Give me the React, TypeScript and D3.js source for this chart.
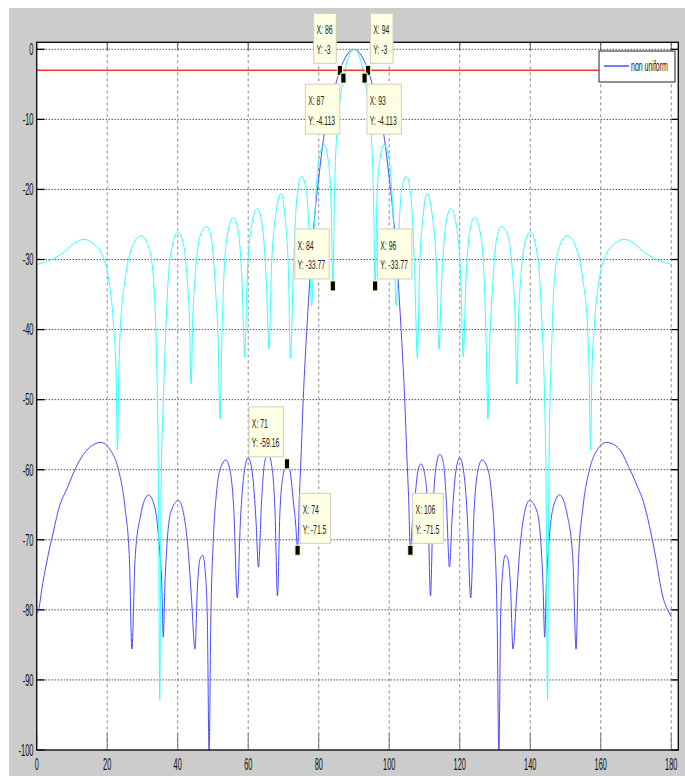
import React from 'react';
import * as d3 from 'd3';

const W = 685;
const H = 776;

const xTicks = [0, 20, 40, 60, 80, 100, 120, 140, 160, 180];
const yTicks = [0, -10, -20, -30, -40, -50, -60, -70, -80, -90, -100];

// non uniform (blue)
const blueAngle = [
  0, 0.7, 1.4, 2.8, 4.7, 6.6, 8.5, 11.4, 14.2, 17.1, 18.1, 19, 20.9, 23.2, 25.1, 26.3, 27, 27.9, 29.4, 31.7,
  33.6, 34.9, 35.5, 35.9, 36.4, 36.9, 38, 40.2, 41.6, 43, 43.9, 44.9, 45.6, 46.3, 47.1, 47.7, 48.4, 48.9, 49.4,
  50.1, 51, 52.4, 53.7, 54.8, 55.9, 56.9, 57.8, 58.8, 60, 61.2, 62.2, 62.9, 63.8, 64.7, 65.7, 66.7, 67.6, 68.3,
  69, 70, 71, 71.8, 72.8, 73.5, 74, 74.5, 75, 75.6, 76.4, 77.1, 78, 78.9, 80.2, 81.3, 82.7, 84, 86, 88, 89, 90,
  91, 92, 94, 96, 97.3, 98.7, 99.8, 101.1, 102, 102.9, 103.6, 104.4, 105, 105.5, 106, 106.5, 107.2, 108.2, 109,
  110, 111, 111.7, 112.4, 113.3, 114.3, 115.3, 116.2, 117.1, 117.8, 118.8, 120, 121.2, 122.2, 123.1, 124.1,
  125.2, 126.3, 127.6, 129, 129.9, 130.6, 131.1, 131.6, 132.3, 132.9, 133.7, 134.4, 135.1, 136.1, 137, 138.4,
  139.8, 142, 143.1, 143.6, 144.1, 144.6, 145.1, 146.4, 148.3, 150.6, 152.1, 153, 153.7, 154.9, 156.8, 159,
  161.6, 165, 168.3, 170.5, 172, 173.8, 175.3, 177.7, 179.3, 180,
];
const blueDb = [
  -80.5, -79.6, -77.2, -73.3, -68.9, -65, -62.8, -59.4, -57.2, -56.2, -56.1, -56.2, -57.2, -60, -65.6, -72.8, -85.6, -72.8, -66.7, -63.6,
  -65.6, -71.7, -76.5, -83.9, -76, -71.1, -66.1, -64.4, -66.1, -71.7, -78.3, -85.6, -76.7, -72.8, -72.2, -73.9, -81.1, -100.5, -81.1,
  -70, -63.3, -59.4, -58.6, -60, -65.6, -78.3, -67.2, -60.6, -58.3, -60.6, -67.2, -73.9, -64.4, -58.8, -57.8, -59.5, -66, -78,
  -66, -60.5, -59.16, -60, -64.5, -68, -71.5, -64, -58, -50, -42, -36, -29, -23.5, -17.5, -13, -9, -6.5, -3, -0.8, -0.2, 0,
  -0.2, -0.8, -3, -6.5, -9, -13, -17.5, -23.5, -29, -36, -42, -50, -58, -64, -71.5, -68, -64.5, -60, -59.16,
  -60.5, -66, -78, -66, -59.5, -57.8, -58.8, -64.4, -73.9, -67.2, -60.6, -58.3, -60.6, -67.2, -78.3, -65.6,
  -60, -58.6, -59.4, -63.3, -70, -81.1, -100.5, -81.1, -73.9, -72.2, -72.8, -76.7, -85.6, -78.3, -71.7, -66.1,
  -64.4, -66.1, -71.1, -76, -83.9, -76, -71.7, -65.6, -63.6, -66.7, -72.8, -85.6, -72.8, -65.6, -60, -57.2,
  -56.1, -56.9, -60, -62.5, -64.4, -68, -71.7, -78.3, -80.3, -81,
];

// second pattern (cyan)
const cyanAngle = [
  0, 3.8, 7.6, 10.4, 13.3, 16.1, 18.5, 20.4, 21.8, 22.5, 22.9, 23.3, 23.7, 25.1, 27, 29.6, 31.8, 33.2, 33.9, 34.5,
  34.9, 35.3, 35.9, 36.9, 37.8, 40, 41.6, 42.7, 43.3, 43.8, 44.3, 44.9, 46.3, 48.2, 49.6, 50.8, 51.5, 52, 52.5,
  52.9, 54, 55.8, 57.2, 58.3, 59, 59.7, 61, 62.6, 64.1, 65.2, 65.9, 66.6, 67.9, 69.3, 70.4, 71.4, 72, 72.8, 73.7,
  75.1, 76.4, 77.3, 78, 78.9, 80.2, 81.5, 82.7, 83.5, 84, 84.5, 85, 86, 87, 88, 89, 90,
  91, 92, 93, 94, 95, 95.5, 96, 96.5, 97.3, 98.5, 99.8, 101.1, 102, 102.7, 103.6, 104.9, 106.3, 107.2, 108, 108.6,
  109.6, 110.7, 112.1, 113.4, 114.1, 114.8, 115.9, 117.4, 119, 120.3, 121, 121.7, 122.8, 124.2, 126, 127.1,
  127.5, 128, 128.5, 129.2, 130.4, 131.8, 133.7, 135.1, 135.7, 136.2, 136.7, 137.3, 138.4, 140, 142.2, 143.1,
  144.1, 144.5, 144.9, 145.3, 146.1, 146.8, 148.2, 150.4, 153, 154.9, 156.3, 156.7, 157.1, 157.5, 158.2, 159.6,
  161.5, 163.9, 166.7, 169.6, 172.4, 176.2, 180,
];
const cyanDb = [
  -30.7, -30.1, -29, -27.8, -27.1, -27.8, -29.3, -32.8, -39.4, -46, -57.2, -46, -40, -32.8, -28.3, -26.6, -28.3, -33.3, -42, -60,
  -92.8, -62, -50.6, -36.7, -30, -26.1, -27.8, -32.8, -38, -47.8, -38, -32.8, -26.7, -25.3, -27.2, -35, -42, -52.8, -42,
  -35, -26.7, -24, -26.1, -33.9, -43.9, -32.8, -25, -22.7, -25.6, -33.9, -42.8, -31.1, -23.3, -20.6, -23.8, -31.6, -44.1, -31.6, -21.8,
  -18.1, -19.8, -26.4, -36.6, -23.8, -15.2, -13.6, -15.9, -21.8, -33.77, -20, -13, -7.5, -4.113, -1.8, -0.45, 0,
  -0.45, -1.8, -4.113, -7.5, -13, -20, -33.77, -21.8, -15.9, -13.6, -15.2, -23.8, -36.6, -26.4, -19.8, -18.1, -21.8, -31.6, -44.1, -31.6,
  -23.8, -20.6, -23.3, -31.1, -42.8, -33.9, -25.6, -22.7, -25, -32.8, -43.9, -33.9, -26.1, -24, -26.7, -35,
  -42, -52.8, -42, -35, -27.2, -25.3, -26.7, -32.8, -38, -47.8, -38, -32.8, -27.8, -26.1, -30, -36.7,
  -50.6, -62, -92.8, -60, -42, -33.3, -28.3, -26.6, -28.3, -32.8, -40, -46, -57.2, -46, -39.4, -32.8,
  -29.3, -27.8, -27.1, -27.8, -29, -30.1, -30.7,
];

const refLevel = -3;

// data tips
const tipX = [86, 94, 87, 93, 84, 96, 71, 74, 106];
const tipY = [-3, -3, -4.113, -4.113, -33.77, -33.77, -59.16, -71.5, -71.5];
const tipPlace = ['NW', 'NE', 'SW', 'SE', 'NW', 'NE', 'NW', 'NE', 'NE'];

const legendLabels = ['non uniform'];

const FONT = "'Liberation Sans', Arial, Helvetica, sans-serif";

const charEm: Record<string, number> = { X: 0.667, Y: 0.667, ':': 0.278, ' ': 0.278, '-': 0.333, '.': 0.278 };
function textW(s: string, size: number, sx: number) {
  let em = 0;
  for (const c of s) em += charEm[c] ?? 0.556;
  return em * size * sx;
}

function NText(props: { x: number; y: number; size: number; sx: number; anchor?: string; fill?: string; children: React.ReactNode }) {
  const { x, y, size, sx, anchor = 'start', fill = '#111', children } = props;
  return (
    <text
      transform={`translate(${x},${y}) scale(${sx},1)`}
      fontSize={size}
      fontFamily={FONT}
      textAnchor={anchor}
      fill={fill}
    >
      {children}
    </text>
  );
}

export default function App() {
  const x = d3.scaleLinear().domain([0, 182]).range([36.7, 678.3]);
  const y = d3.scaleLinear().domain([-100, 1]).range([750, 42.3]);
  const [x0, x1] = x.range();
  const [yb, yt] = y.range();

  const line = d3
    .line<[number, number]>()
    .x((d) => x(d[0]))
    .y((d) => y(d[1]))
    .curve(d3.curveMonotoneX);

  const blue = blueAngle.map((a, i) => [a, blueDb[i]] as [number, number]);
  const cyan = cyanAngle.map((a, i) => [a, cyanDb[i]] as [number, number]);

  // legend geometry
  const lgX = 599, lgY = 51, lgW = 76, lgH = 31;

  const tipSize = 12.5, tipSx = 0.55;

  return (
    <svg width={W} height={H} style={{ position: 'absolute', left: 0, top: 0 }}>
      <defs>
        <clipPath id="plot">
          <rect x={x0} y={yt} width={x1 - x0} height={yb - yt} />
        </clipPath>
      </defs>
      <rect x={0} y={0} width={W} height={H} fill="#fff" />
      <rect x={9} y={8} width={W - 9} height={H - 8} fill="#cccccc" />
      <rect x={x0} y={yt} width={x1 - x0} height={yb - yt} fill="#fff" />

      {/* grid */}
      {yTicks.filter((t) => t !== -100).map((t) => (
        <line key={'gy' + t} x1={x0} x2={x1} y1={y(t)} y2={y(t)} stroke="#000" strokeWidth={1} strokeDasharray="1,2" />
      ))}
      {xTicks.filter((t) => t !== 0).map((t) => (
        <line key={'gx' + t} x1={x(t)} x2={x(t)} y1={yt} y2={yb} stroke="#8a8a8a" strokeWidth={1} strokeDasharray="3,3" />
      ))}

      {/* ticks */}
      {xTicks.map((t) => (
        <g key={'tx' + t}>
          <line x1={x(t)} x2={x(t)} y1={yb} y2={yb - 17} stroke="#777" strokeWidth={1} />
          <line x1={x(t)} x2={x(t)} y1={yt} y2={yt + 8} stroke="#555" strokeWidth={1} />
        </g>
      ))}
      {yTicks.map((t) => (
        <g key={'ty' + t}>
          <line x1={x0} x2={x0 + 8} y1={y(t)} y2={y(t)} stroke="#000" strokeWidth={1.3} />
          <line x1={x1} x2={x1 - 7} y1={y(t)} y2={y(t)} stroke="#000" strokeWidth={1.3} />
        </g>
      ))}

      {/* curves */}
      <g clipPath="url(#plot)">
        <path d={line(blue) ?? ''} fill="none" stroke="#4a4aff" strokeWidth={1} />
        <path d={line(cyan) ?? ''} fill="none" stroke="#33ffff" strokeWidth={1} />
        <line x1={x0} x2={lgX} y1={y(refLevel)} y2={y(refLevel)} stroke="#ff3333" strokeWidth={1.5} />
      </g>

      {/* axes box */}
      <rect x={x0} y={yt} width={x1 - x0} height={yb - yt} fill="none" stroke="#111" strokeWidth={1.4} />

      {/* tick labels */}
      {yTicks.map((t) => (
        <NText key={'ly' + t} x={33.5} y={y(t) + 5.8} size={16} sx={0.47} anchor="end">
          {String(t)}
        </NText>
      ))}
      {xTicks.map((t) => (
        <NText key={'lx' + t} x={x(t)} y={769.5} size={16} sx={0.46} anchor="middle">
          {String(t)}
        </NText>
      ))}

      {/* legend */}
      <rect x={lgX} y={lgY} width={lgW} height={lgH} fill="#fff" stroke="#444" strokeWidth={1.2} />
      <line x1={lgX + 5} x2={lgX + 30} y1={lgY + 15} y2={lgY + 15} stroke="#2020ff" strokeWidth={1.2} />
      <NText x={lgX + 32} y={lgY + 20} size={14} sx={0.5}>
        {legendLabels[0]}
      </NText>

      {/* data tips */}
      {tipX.map((tx, i) => {
        const mx = x(tx);
        const my = y(tipY[i]);
        const l1 = `X: ${tx}`;
        const l2 = `Y: ${tipY[i]}`;
        const bw = Math.max(textW(l1, tipSize, tipSx), textW(l2, tipSize, tipSx)) + 6.5;
        const bh = 50;
        const p = tipPlace[i];
        const bx = p[1] === 'W' ? mx - 3.6 - bw : mx + 2.4;
        const by = p[0] === 'N' ? my - 57 : my + 6;
        return (
          <g key={'tip' + i}>
            <rect x={bx} y={by} width={bw} height={bh} fill="#ffffe4" stroke="#cfcfbd" strokeWidth={1} />
            <NText x={bx + 2.8} y={by + 21} size={tipSize} sx={tipSx} fill="#222">
              {l1}
            </NText>
            <NText x={bx + 2.8} y={by + 40.5} size={tipSize} sx={tipSx} fill="#222">
              {l2}
            </NText>
            <rect x={mx - 2.6} y={my - 5} width={5.2} height={10} fill="#000" stroke="#ffffc8" strokeWidth={1} />
          </g>
        );
      })}
    </svg>
  );
}
